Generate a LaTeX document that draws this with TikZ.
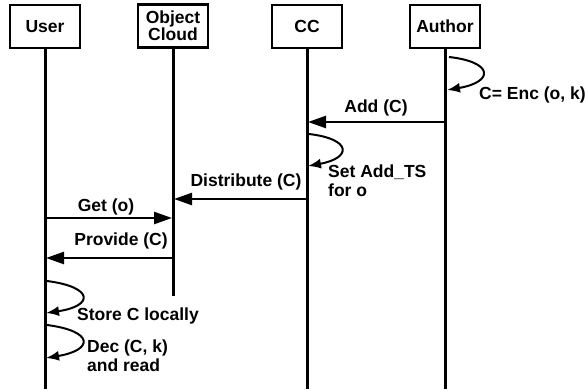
\documentclass[tikz,border=0pt]{standalone}
\usepackage{fontspec}
\setmainfont{Liberation Sans}
\usetikzlibrary{arrows.meta}

\begin{document}
\begin{tikzpicture}[x=1pt,y=-1pt]
\tikzstyle{every node}=[font=\fontsize{17.5}{19}\selectfont\bfseries];
\tikzstyle{actor}=[draw,line width=2.6pt,minimum width=70pt,minimum height=43pt,align=center,inner sep=0pt];
\tikzstyle{life}=[line width=3pt];
\tikzstyle{msg}=[line width=2.4pt,-{Triangle[length=18pt,width=12pt]},shorten >=1pt];
\tikzstyle{self}=[line width=2pt,-{Latex[length=13pt,width=10pt]}];
\tikzstyle{note}=[align=left,inner sep=0pt];
\useasboundingbox (0,0) rectangle (585,389);

% actors
\node[actor] (user) at (45,26.5) {User};
\node[actor,font=\fontsize{17.5}{17}\selectfont\bfseries] (cloud) at (173,26) {Object\\Cloud};
\node[actor] (cc) at (307,26.5) {CC};
\node[actor] (author) at (445,26.5) {Author};

\coordinate (userEnd) at (45,389);
\coordinate (cloudEnd) at (173,296);
\coordinate (ccEnd) at (307,389);
\coordinate (authorEnd) at (445,389);
\draw[life] (user) -- (userEnd);
\draw[life] (cloud) -- (cloudEnd);
\draw[life] (cc) -- (ccEnd);
\draw[life] (author) -- (authorEnd);

% messages
\coordinate (addS) at (445,122);
\coordinate (addE) at (307,122);
\coordinate (distS) at (307,199);
\coordinate (distE) at (173,199);
\coordinate (getS) at (45,218);
\coordinate (getE) at (173,218);
\coordinate (provS) at (173,258);
\coordinate (provE) at (45,258);
\draw[msg] (addS) -- node[above=5pt,inner sep=0pt] {Add (C)} (addE);
\draw[msg] (distS) -- node[above=8pt,inner sep=0pt,xshift=6pt] {Distribute (C)} (distE);
\draw[msg] (getS) -- node[above=2pt,inner sep=0pt,xshift=-3pt] {Get (o)} (getE);
\draw[msg] (provS) -- node[above=8pt,inner sep=0pt,xshift=12pt] {Provide (C)} (provE);

% self steps
\coordinate (encS) at (449,57);
\coordinate (encE) at (447,90);
\coordinate (tsS) at (309,134);
\coordinate (tsE) at (308,166);
\coordinate (storeS) at (47,281);
\coordinate (storeE) at (46,313);
\coordinate (decS) at (47,325);
\coordinate (decE) at (46,358);
\draw[self] (encS) .. controls (494,62) and (494,82) .. (encE);
\draw[self] (tsS) .. controls (352,139) and (352,158) .. (tsE);
\draw[self] (storeS) .. controls (94,287) and (94,306) .. (storeE);
\draw[self] (decS) .. controls (94,331) and (94,350) .. (decE);
\node[note,anchor=base west] (enc) at (479,99) {C= Enc (o, k)};
\node[note,anchor=north west] (ts) at (328,165) {Set Add\_TS\\for o};
\node[note,anchor=base west] (store) at (77,320) {Store C locally};
\node[note,anchor=north west] (dec) at (87,340) {Dec (C, k)\\and read};
\end{tikzpicture}
\end{document}
